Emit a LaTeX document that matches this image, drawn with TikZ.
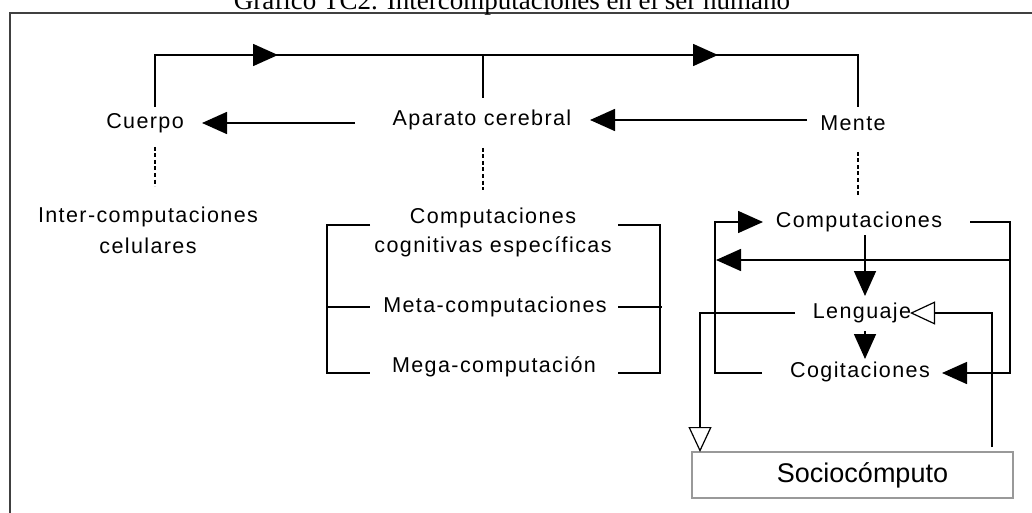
\documentclass[tikz,border=0pt]{standalone}
\usepackage{fontspec}
\setmainfont{Liberation Sans}
\newfontfamily\diagfont[LetterSpace=6.5]{Liberation Sans}
\newfontfamily\sociofont{Liberation Sans}
\newfontfamily\titlefont{Liberation Serif}
\usetikzlibrary{arrows.meta}
\begin{document}
\begin{tikzpicture}[x=1pt,y=-1pt,
  lbl/.style={inner sep=0pt, font=\diagfont\fontsize{21.5}{31}\selectfont, align=center},
  conn/.style={line width=1.6pt, line join=miter},
  fa/.style={-{Triangle[length=25pt,width=22pt]}},
  oa/.style={-{Triangle[open,length=25pt,width=23pt,line width=1.2pt]}},
  dotline/.style={line width=1.3pt, dash pattern=on 4pt off 2.5pt},
  sociobox/.style={draw=black!40, line width=1.6pt, minimum width=321pt, minimum height=46pt, inner sep=0pt, font=\sociofont\fontsize{27}{30}\selectfont}
]
\useasboundingbox (0,0) rectangle (1032,513);
\clip (0,0) rectangle (1032,513);
% frame
\draw[line width=1.5pt, black!75] (1032,13) -- (10,13) -- (10,513);
% title (cut at top, as in the reference)
\node[anchor=base, inner sep=0pt, font=\titlefont\fontsize{27}{30}\selectfont] (title) at (512,10) {Gráfico TC2. Intercomputaciones en el ser humano};

% top row
\node[lbl] (cuerpo) at (145,123) {Cuerpo};
\node[lbl] (aparato) at (482,120) {Aparato cerebral};
\node[lbl] (mente) at (853,123) {Mente};

\coordinate (cuerpoTop) at (155,107);
\coordinate (tl) at (155,55);
\coordinate (tm) at (483,55);
\coordinate (tmb) at (483,98);
\coordinate (tr) at (858,55);
\coordinate (menteTop) at (858,107);
\draw[conn] (cuerpoTop) -- (tl) -- (tr) -- (menteTop);
\draw[conn] (tm) -- (tmb);
\coordinate (a1s) at (250,55); \coordinate (a1e) at (278,55);
\coordinate (a2s) at (690,55); \coordinate (a2e) at (718,55);
\draw[conn,fa] (a1s) -- (a1e);
\draw[conn,fa] (a2s) -- (a2e);

\coordinate (apL) at (355,123); \coordinate (cuR) at (202,123);
\draw[conn,fa] (apL) -- (cuR);
\coordinate (meL) at (807,120); \coordinate (apR) at (590,120);
\draw[conn,fa] (meL) -- (apR);

% dotted links
\coordinate (d1a) at (155,147); \coordinate (d1b) at (155,186);
\coordinate (d2a) at (483,148); \coordinate (d2b) at (483,190);
\coordinate (d3a) at (858,152); \coordinate (d3b) at (858,195);
\draw[dotline] (d1a) -- (d1b);
\draw[dotline] (d2a) -- (d2b);
\draw[dotline] (d3a) -- (d3b);

% left column
\node[lbl] (inter) at (148,230) {Inter-computaciones\\celulares};

% middle column
\node[lbl, font=\diagfont\fontsize{21.5}{29}\selectfont] (compcog) at (493,232) {Computaciones\\cognitivas específicas};
\node[lbl] (meta) at (495,307) {Meta-computaciones};
\node[lbl] (mega) at (494,367) {Mega-computación};
\coordinate (bl1) at (370,225); \coordinate (bl2) at (327,225);
\coordinate (bl3) at (327,373); \coordinate (bl4) at (370,373);
\coordinate (bl5) at (327,307); \coordinate (bl6) at (370,307);
\draw[conn] (bl1) -- (bl2) -- (bl3) -- (bl4);
\draw[conn] (bl5) -- (bl6);
\coordinate (br1) at (618,225); \coordinate (br2) at (660,225);
\coordinate (br3) at (660,373); \coordinate (br4) at (618,373);
\coordinate (br5) at (618,307); \coordinate (br6) at (662,307);
\draw[conn] (br1) -- (br2) -- (br3) -- (br4);
\draw[conn] (br5) -- (br6);

% right column
\node[lbl] (comp) at (859,222) {Computaciones};
\node[lbl] (leng) at (862,313) {Lenguaje};
\node[lbl] (cogit) at (860,372) {Cogitaciones};
\node[sociobox] (socio) at (852.5,475) {\hspace*{20pt}Sociocómputo};

% right loop: Computaciones -> Cogitaciones
\coordinate (r1) at (970,222); \coordinate (r2) at (1010,222);
\coordinate (r3) at (1010,373); \coordinate (r4) at (942,373);
\draw[conn,fa] (r1) -- (r2) -- (r3) -- (r4);
% middle feedback
\coordinate (m1) at (1010,260); \coordinate (m2) at (716,260);
\draw[conn,fa] (m1) -- (m2);
% left loop: Cogitaciones -> Computaciones
\coordinate (l1) at (762,373); \coordinate (l2) at (715,373);
\coordinate (l3) at (715,222); \coordinate (l4) at (763,222);
\draw[conn,fa] (l1) -- (l2) -- (l3) -- (l4);
% vertical chain
\coordinate (c1) at (865,235); \coordinate (c2) at (865,296);
\draw[conn,fa] (c1) -- (c2);
\coordinate (c3) at (865,331); \coordinate (c4) at (865,359);
\draw[conn,fa] (c3) -- (c4);
% Lenguaje -> Sociocomputo
\coordinate (s1) at (795,313); \coordinate (s2) at (700,313); \coordinate (s3) at (700,452);
\draw[conn,oa] (s1) -- (s2) -- (s3);
% Sociocomputo -> Lenguaje
\coordinate (u1) at (992,447); \coordinate (u2) at (992,313); \coordinate (u3) at (910,313);
\draw[conn,oa] (u1) -- (u2) -- (u3);
\end{tikzpicture}
\end{document}
